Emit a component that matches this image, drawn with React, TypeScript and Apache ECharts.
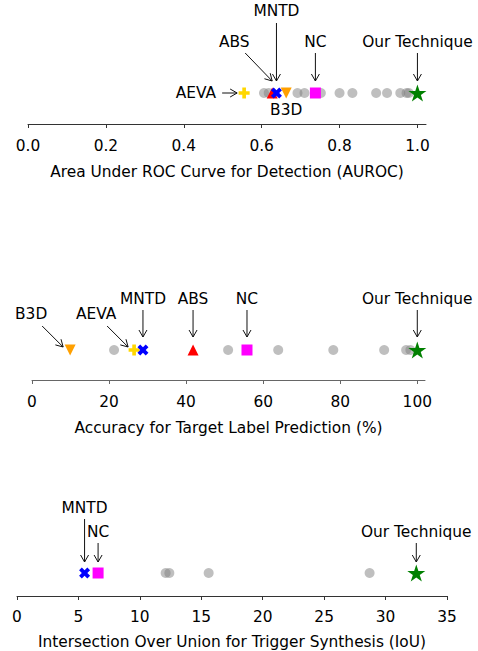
import React, { useEffect, useRef } from 'react';
import * as echarts from 'echarts';

// ---------------- data ----------------
const methods = ['AEVA', 'ABS', 'MNTD', 'B3D', 'NC', 'Our Technique'];

const aurocValues: (number | null)[] = [0.555, 0.627, 0.638, 0.663, 0.738, 1.0];
const aurocOthers = [0.606, 0.618, 0.692, 0.71, 0.752, 0.8, 0.833, 0.894, 0.922, 0.956, 0.972, 0.978];

const accuracyValues: (number | null)[] = [26.5, 41.8, 28.8, 9.9, 55.8, 100];
const accuracyOthers = [21.3, 50.9, 63.9, 78.2, 91.4, 97.1, 98.2];

const iouValues: (number | null)[] = [null, null, 5.5, null, 6.6, 32.5];
const iouOthers = [12.1, 12.4, 15.6, 28.7];

const aurocTicks = [0, 0.2, 0.4, 0.6, 0.8, 1.0];
const accuracyTicks = [0, 20, 40, 60, 80, 100];
const iouTicks = [0, 5, 10, 15, 20, 25, 30, 35];

const axisTitles = [
  'Area Under ROC Curve for Detection (AUROC)',
  'Accuracy for Target Label Prediction (%)',
  'Intersection Over Union for Trigger Synthesis (IoU)',
];

// ---------------- styles / layout ----------------
const FONT = 'DejaVu Sans';
const FS = 15.4;
const ROW = 0.5;

const PLUS = 'path://M-1,-3L1,-3L1,-1L3,-1L3,1L1,1L1,3L-1,3L-1,1L-3,1L-3,-1L-1,-1Z';
const XMARK = 'path://M2,-4L4,-2L2,0L4,2L2,4L0,2L-2,4L-4,2L-2,0L-4,-2L-2,-4L0,-2Z';
const STAR =
  'path://M0,-100L22.45,-30.9L95.11,-30.9L36.33,11.8L58.78,80.9L0,38.2L-58.78,80.9L-36.33,11.8L-95.11,-30.9L-22.45,-30.9Z';

const methodStyles: Record<string, { symbol: string; size: number; color: string; rotate?: number }> = {
  AEVA: { symbol: PLUS, size: 11, color: '#ffd700' },
  ABS: { symbol: 'triangle', size: 11, color: '#ff0000' },
  MNTD: { symbol: XMARK, size: 11, color: '#0000ff' },
  B3D: { symbol: 'triangle', size: 11, color: '#ffa000', rotate: 180 },
  NC: { symbol: 'rect', size: 11, color: '#ff00ff' },
  'Our Technique': { symbol: STAR, size: 18, color: '#008000' },
};

type Ann = { tx: number; ty: number; align?: string; arrow?: number[] };
const up = (ty: number, s: number, e: number): Ann => ({ tx: 0, ty, arrow: [0, s, 0, e] });

const annLayouts: Record<string, Ann>[] = [
  {
    AEVA: { tx: -28, ty: 0, align: 'right', arrow: [-22, 0, -7, 0] },
    ABS: { tx: -38, ty: -51, arrow: [-27, -40, 0, -12] },
    MNTD: up(-82, -70, -12),
    B3D: { tx: 0, ty: 17 },
    NC: up(-51, -40, -12),
    'Our Technique': up(-51, -40, -12),
  },
  {
    B3D: { tx: -39, ty: -36, arrow: [-28, -24, -7, -3] },
    AEVA: { tx: -38, ty: -36, arrow: [-27, -24, -6, -3] },
    MNTD: up(-51, -40, -13),
    ABS: up(-51, -40, -13),
    NC: up(-51, -40, -13),
    'Our Technique': up(-51, -40, -13),
  },
  {
    MNTD: up(-65, -54, -11),
    NC: up(-41, -30, -11),
    'Our Technique': up(-41, -30, -11),
  },
];

const grids = [
  { left: 28, width: 398, top: 62, height: 62 },
  { left: 32, width: 393, top: 320, height: 60 },
  { left: 17, width: 430, top: 550, height: 46 },
];
const axisMax = [1.022, 102, 35];
const axisColors = ['#333', '#666', '#333'];
const labelMargins = [14, 14, 13];
const nameGaps = [40, 40, 38];

const panelValues = [aurocValues, accuracyValues, iouValues];
const panelOthers = [aurocOthers, accuracyOthers, iouOthers];
const panelTicks = [aurocTicks, accuracyTicks, iouTicks];
const tickFormat = [(v: number) => v.toFixed(1), (v: number) => String(v), (v: number) => String(v)];

function buildOption() {
  const xAxis: any[] = [];
  const yAxis: any[] = [];
  const series: any[] = [];

  for (let p = 0; p < 3; p++) {
    xAxis.push({
      type: 'value',
      gridIndex: p,
      min: 0,
      max: axisMax[p],
      splitLine: { show: false },
      axisLine: { show: true, lineStyle: { color: axisColors[p], width: 1 } },
      axisTick: {
        show: true,
        length: 4,
        customValues: panelTicks[p],
        lineStyle: { color: axisColors[p], width: 1 },
      },
      axisLabel: {
        customValues: panelTicks[p],
        formatter: tickFormat[p],
        fontSize: FS,
        fontFamily: FONT,
        color: '#000',
        margin: labelMargins[p],
      },
      name: axisTitles[p],
      nameLocation: 'middle',
      nameGap: nameGaps[p],
      nameTextStyle: { fontSize: FS, fontFamily: FONT, color: '#000' },
    });
    yAxis.push({ type: 'value', gridIndex: p, min: 0, max: 1, show: false });

    series.push({
      type: 'scatter',
      xAxisIndex: p,
      yAxisIndex: p,
      symbol: 'circle',
      symbolSize: 10,
      itemStyle: { color: '#808080', opacity: 0.5 },
      data: panelOthers[p].map((v) => [v, ROW]),
      silent: true,
      z: 2,
    });

    methods.forEach((m, i) => {
      const v = panelValues[p][i];
      if (v == null) return;
      const st = methodStyles[m];
      series.push({
        type: 'scatter',
        name: m,
        xAxisIndex: p,
        yAxisIndex: p,
        symbol: st.symbol,
        symbolSize: st.size,
        symbolRotate: st.rotate || 0,
        symbolKeepAspect: true,
        itemStyle: { color: st.color, opacity: 1 },
        data: [[v, ROW]],
        silent: true,
        z: 3 + i,
      });
    });

    const layouts = annLayouts[p];
    const annData: any[] = [];
    methods.forEach((m, i) => {
      const v = panelValues[p][i];
      if (v == null || !layouts[m]) return;
      annData.push([v, ROW, i]);
    });

    series.push({
      type: 'custom',
      xAxisIndex: p,
      yAxisIndex: p,
      silent: true,
      clip: false,
      z: 20,
      data: annData,
      renderItem: (params: any, api: any) => {
        const idx = api.value(2);
        const name = methods[idx];
        const L = layouts[name];
        const pt = api.coord([api.value(0), api.value(1)]);
        const mx = pt[0];
        const my = pt[1];
        const children: any[] = [
          {
            type: 'text',
            style: {
              text: name,
              x: mx + L.tx,
              y: my + L.ty,
              align: L.align || 'center',
              verticalAlign: 'middle',
              fontSize: FS,
              fontFamily: FONT,
              fill: '#000',
            },
          },
        ];
        if (L.arrow) {
          const sx = mx + L.arrow[0];
          const sy = my + L.arrow[1];
          const ex = mx + L.arrow[2];
          const ey = my + L.arrow[3];
          const dx = ex - sx;
          const dy = ey - sy;
          const len = Math.hypot(dx, dy) || 1;
          const ux = dx / len;
          const uy = dy / len;
          const hl = 7;
          const hw = 4;
          children.push({
            type: 'line',
            shape: { x1: sx, y1: sy, x2: ex, y2: ey },
            style: { stroke: '#111', lineWidth: 1 },
          });
          children.push({
            type: 'polyline',
            shape: {
              points: [
                [ex - ux * hl - uy * hw, ey - uy * hl + ux * hw],
                [ex, ey],
                [ex - ux * hl + uy * hw, ey - uy * hl - ux * hw],
              ],
            },
            style: { stroke: '#111', lineWidth: 1, fill: 'none' },
          });
        }
        return { type: 'group', children };
      },
    });
  }

  return {
    animation: false,
    backgroundColor: '#fff',
    textStyle: { fontFamily: FONT },
    grid: grids.map((g) => ({ ...g, containLabel: false })),
    xAxis,
    yAxis,
    series,
  };
}

export default function App() {
  const ref = useRef<HTMLDivElement>(null);
  useEffect(() => {
    if (!ref.current) return;
    const chart = echarts.init(ref.current, undefined, { renderer: 'svg' });
    chart.setOption(buildOption() as any);
    return () => chart.dispose();
  }, []);
  return (
    <div
      ref={ref}
      style={{ position: 'absolute', left: 0, top: 0, width: 478, height: 651, background: '#fff' }}
    />
  );
}
